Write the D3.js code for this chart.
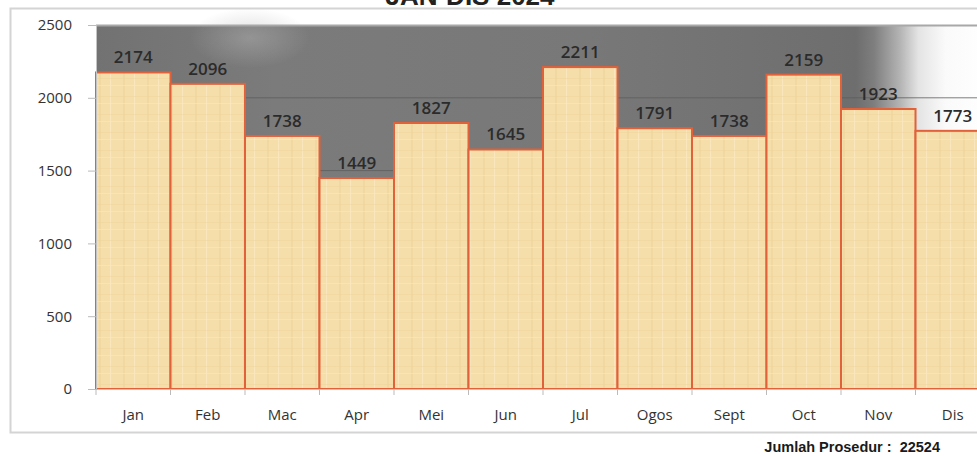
<!DOCTYPE html>
<html>
<head>
<meta charset="utf-8">
<script src="https://cdn.jsdelivr.net/npm/d3@7"></script>
<style>
  body { margin: 0; background: #fff; }
  svg { display: block; }
</style>
</head>
<body>
<svg id="chart" width="977" height="456"></svg>
<script>
// jumlah prosedur per bulan
var months = ["Jan", "Feb", "Mac", "Apr", "Mei", "Jun", "Jul", "Ogos", "Sept", "Oct", "Nov", "Dis"];
var procedures = [2174, 2096, 1738, 1449, 1827, 1645, 2211, 1791, 1738, 2159, 1923, 1773];
var yTicks = [0, 500, 1000, 1500, 2000, 2500];
var titleText = "JAN-DIS 2024";
var footerLabel = "Jumlah Prosedur :  ";

var svg = d3.select("#chart");
var margin = {top: 25, left: 96, bottom: 67};
var plotW = 894, plotH = 456 - margin.top - margin.bottom; // plot runs past the right edge

var x = d3.scaleBand().domain(months).range([margin.left, margin.left + plotW]).padding(0);
var y = d3.scaleLinear().domain([0, 2500]).range([margin.top + plotH, margin.top]);

var defs = svg.append("defs");

// plot background: grey fading to white on the right
var bg = defs.append("linearGradient").attr("id", "bgGrad");
[[0, "#727272"], [0.2, "#7b7b7b"], [0.55, "#787878"], [0.85, "#6e6e6e"], [0.87, "#7e7e7e"],
 [0.9, "#b5b5b5"], [0.92, "#e4e4e4"], [0.95, "#fafafa"], [1, "#ffffff"]].forEach(function(s) {
    bg.append("stop").attr("offset", s[0]).attr("stop-color", s[1]);
});
var glow = defs.append("radialGradient").attr("id", "glow");
glow.append("stop").attr("offset", 0).attr("stop-color", "#b4b4b4").attr("stop-opacity", 0.45);
glow.append("stop").attr("offset", 1).attr("stop-color", "#b4b4b4").attr("stop-opacity", 0);

// parchment texture for the bars
var pat = defs.append("pattern").attr("id", "paper")
    .attr("patternUnits", "userSpaceOnUse").attr("width", 24).attr("height", 18);
pat.append("rect").attr("width", 24).attr("height", 18).attr("fill", "#f6deaa");
pat.append("rect").attr("x", 3).attr("width", 2).attr("height", 18).attr("fill", "#ecd198").attr("opacity", 0.5);
pat.append("rect").attr("x", 14).attr("width", 1).attr("height", 18).attr("fill", "#fbe9c2").attr("opacity", 0.8);
pat.append("rect").attr("y", 6).attr("width", 24).attr("height", 1).attr("fill", "#ead198").attr("opacity", 0.4);
pat.append("rect").attr("y", 13).attr("width", 24).attr("height", 1).attr("fill", "#fbe8c0").attr("opacity", 0.6);

// outer frame
svg.append("rect")
    .attr("x", 10.5).attr("y", 8.5).attr("width", 990).attr("height", 424)
    .attr("fill", "#fff").attr("stroke", "#d4d4d4").attr("stroke-width", 2);

// title, mostly cut off at the top as in the source image
svg.append("text")
    .attr("x", 470).attr("y", 5)
    .attr("text-anchor", "middle")
    .style("font", "bold 26px 'Liberation Sans', Arial, sans-serif")
    .style("fill", "#222")
    .text(titleText);

var plot = svg.append("g");
plot.append("rect")
    .attr("x", margin.left).attr("y", margin.top).attr("width", plotW).attr("height", plotH)
    .attr("fill", "url(#bgGrad)");
plot.append("ellipse")
    .attr("cx", 250).attr("cy", 38).attr("rx", 60).attr("ry", 30)
    .attr("fill", "url(#glow)");
plot.append("line")
    .attr("x1", margin.left).attr("x2", margin.left + plotW)
    .attr("y1", margin.top + 0.5).attr("y2", margin.top + 0.5)
    .attr("stroke", "#a8a8a8").attr("stroke-width", 2);

// gridlines
plot.selectAll(".grid")
    .data(yTicks.filter(function(d) { return d > 0 && d < 2500; }))
    .enter().append("line")
    .attr("class", "grid")
    .attr("x1", margin.left).attr("x2", margin.left + plotW)
    .attr("y1", function(d) { return y(d); }).attr("y2", function(d) { return y(d); })
    .attr("stroke", "#5e5e5e").attr("stroke-opacity", 0.8);

// bars
plot.selectAll(".bar")
    .data(procedures)
    .enter().append("rect")
    .attr("class", "bar")
    .attr("x", function(d, i) { return x(months[i]); })
    .attr("y", function(d) { return y(d); })
    .attr("width", x.bandwidth())
    .attr("height", function(d) { return y(0) - y(d); })
    .attr("fill", "url(#paper)")
    .attr("stroke", "#e0613a")
    .attr("stroke-width", 2);

// value labels
plot.selectAll(".val")
    .data(procedures)
    .enter().append("text")
    .attr("class", "val")
    .attr("x", function(d, i) { return x(months[i]) + x.bandwidth() / 2; })
    .attr("y", function(d) { return y(d) - 9; })
    .attr("text-anchor", "middle")
    .style("font", "600 17px 'Open Sans', sans-serif")
    .style("fill", "#2b2b2b")
    .text(function(d) { return d; });

// axes
var yAxis = svg.append("g")
    .attr("transform", "translate(" + margin.left + ",0)")
    .call(d3.axisLeft(y).tickValues(yTicks).tickFormat(d3.format("d")).tickSize(8).tickPadding(16));
var xAxis = svg.append("g")
    .attr("transform", "translate(0," + y(0) + ")")
    .call(d3.axisBottom(x).tickSize(0).tickPadding(20));
xAxis.selectAll(".tick").each(function(d) {
    d3.select(this).append("line")
        .attr("x1", -x.bandwidth() / 2).attr("x2", -x.bandwidth() / 2)
        .attr("y1", 0).attr("y2", 6)
        .attr("stroke", "#bbb");
});

svg.selectAll(".domain").attr("stroke", "#c4c4c4");
yAxis.selectAll(".tick line").attr("stroke", "#bbb");
svg.selectAll(".tick text")
    .style("font", "15px 'Open Sans', sans-serif")
    .style("fill", "#333");

// total
var total = d3.sum(procedures);
svg.append("text")
    .attr("x", 940).attr("y", 452)
    .attr("text-anchor", "end")
    .attr("xml:space", "preserve")
    .style("font", "bold 14.5px 'Liberation Sans', Arial, sans-serif")
    .style("fill", "#1a1a1a")
    .text(footerLabel + total);
</script>
</body>
</html>
